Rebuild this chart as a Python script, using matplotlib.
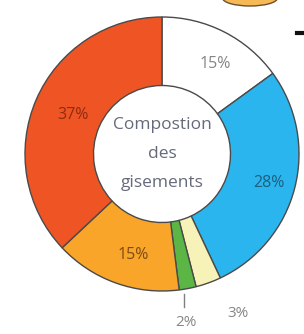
import numpy as np
import matplotlib.pyplot as plt
from matplotlib.patches import Ellipse

# slices, clockwise from the top
labels = ['blanc', 'bleu', 'jaune', 'vert', 'orange', 'rouge']
values = [15, 28, 3, 2, 15, 37]
colors = ['#ffffff', '#2bb5ee', '#f6f2b8', '#5cb646', '#f8a52a', '#ef5524']
pct_colors = ['#858585', '#1d5e7e', '#858585', '#858585', '#7a4c14', '#8b2c12']
center_text = 'Compostion\ndes\ngisements'

W, H = 304, 334
cx, cy, R = 162, 154, 137   # pixels

plt.rcParams['font.family'] = ['Open Sans', 'DejaVu Sans']
fig = plt.figure(figsize=(W / 100, H / 100), dpi=100)
ax = fig.add_axes([0, 0, 1, 1])

wedges, _ = ax.pie(values, colors=colors, startangle=90, counterclock=False,
                   radius=1.0,
                   wedgeprops=dict(width=0.5, edgecolor='#4a4a4a', linewidth=1.0))

ax.set_xlim(-cx / R, (W - cx) / R)
ax.set_ylim(-(H - cy) / R, cy / R)
ax.set_aspect('auto')
ax.axis('off')

for i, w in enumerate(wedges):
    mid = np.deg2rad((w.theta1 + w.theta2) / 2)
    txt = '%d%%' % values[i]
    if values[i] >= 10:
        r = 0.76
        ax.text(r * np.cos(mid) + 0.045, r * np.sin(mid) - 0.02, txt,
                ha='center', va='center', fontsize=11.5, color=pct_colors[i])

# small slices, labels outside
w3 = wedges[2]
m3 = np.deg2rad((w3.theta1 + w3.theta2) / 2)
ax.text(1.28 * np.cos(m3) + 0.12, 1.28 * np.sin(m3) + 0.04, '%d%%' % values[2],
        ha='center', va='center', fontsize=11, color=pct_colors[2])

w2 = wedges[3]
m2 = np.deg2rad((w2.theta1 + w2.theta2) / 2)
x2 = np.cos(m2) - 0.03
ax.plot([x2, x2], [-1.02, -1.12], color='#808080', lw=1)
ax.text(x2 + 0.02, -1.23, '%d%%' % values[3], ha='center', va='center',
        fontsize=11, color=pct_colors[3])

ax.text(0, 0.0, center_text, ha='center', va='center', fontsize=12.5,
        color='#646a7a', linespacing=2.1)

# bits of the page around the chart
ax.add_patch(Ellipse(((250 - cx) / R, (cy + 2) / R), 55 / R, 16 / R,
                     facecolor='#f7b955', edgecolor='#6a5030', lw=1, clip_on=False))
ax.plot([(297 - cx) / R, (304 - cx) / R], [(cy - 33) / R] * 2, color='#111111', lw=3)

fig.savefig('out.png', dpi=100)
